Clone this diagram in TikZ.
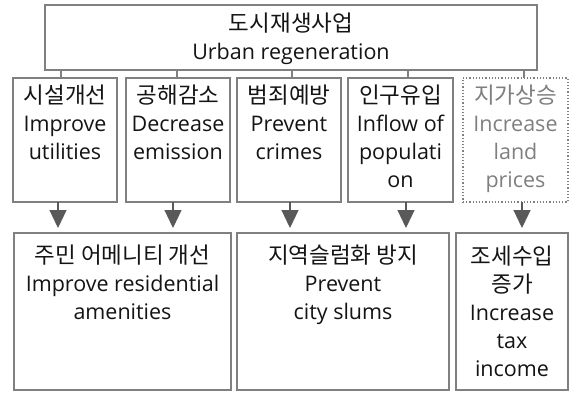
\documentclass[tikz,border=0pt]{standalone}
\usepackage{fontspec}
\setmainfont{Open Sans}
\newfontfamily\krfont{Noto Sans CJK KR}
\usetikzlibrary{arrows.meta,calc}
\newcommand{\kr}{\krfont\fontsize{22.5}{28}\selectfont}
\newcommand{\en}{\fontsize{21.5}{28}\selectfont}
\definecolor{boxgray}{HTML}{808080}
\definecolor{arrowgray}{HTML}{595959}
\definecolor{txtdark}{HTML}{141414}
\definecolor{txtgray}{HTML}{7F7F7F}
\begin{document}
\begin{tikzpicture}[x=1pt,y=-1pt,
  box/.style={draw=boxgray,line width=1.2pt,anchor=north west,inner sep=0pt,outer sep=0pt},
  dotbox/.style={box,dotted},
  txt/.style={anchor=north,align=center,inner sep=0pt,text=txtdark,font=\en},
  link/.style={draw=boxgray,line width=1.2pt},
  arr/.style={draw=arrowgray,line width=1.2pt,-{Triangle[width=17pt,length=18pt]},shorten >=5pt}
]
\useasboundingbox (0,0) rectangle (572,392);
% top box
\node[box,minimum width=492pt,minimum height=65pt] (top) at (45,5) {};
\node[txt] (topt) at ($(top.north)+(0,8)$) {{\kr 도시재생사업}\\Urban regeneration};
% middle boxes
\node[box,minimum width=104pt,minimum height=124pt] (m1) at (13,78) {};
\node[box,minimum width=104pt,minimum height=124pt] (m2) at (126,78) {};
\node[box,minimum width=104pt,minimum height=124pt] (m3) at (237,78) {};
\node[box,minimum width=105pt,minimum height=124pt] (m4) at (348,78) {};
\node[dotbox,minimum width=105pt,minimum height=124pt] (m5) at (463,78) {};
\node[txt] (m1t) at ($(m1.north)+(0,7)$) {{\kr 시설개선}\\Improve\\utilities};
\node[txt] (m2t) at ($(m2.north)+(0,7)$) {{\kr 공해감소}\\Decrease\\emission};
\node[txt] (m3t) at ($(m3.north)+(0,7)$) {{\kr 범죄예방}\\Prevent\\crimes};
\node[txt] (m4t) at ($(m4.north)+(0,7)$) {{\kr 인구유입}\\Inflow of\\populati\\on};
\node[txt,text=txtgray] (m5t) at ($(m5.north)+(0,7)$) {{\kr 지가상승}\\Increase\\land\\prices};
% bottom boxes
\node[box,minimum width=217pt,minimum height=157pt] (b1) at (14,233) {};
\node[box,minimum width=212pt,minimum height=157pt] (b2) at (237,233) {};
\node[box,minimum width=112pt,minimum height=157pt] (b3) at (456,233) {};
\node[txt] (b1t) at ($(b1.north)+(0,12)$) {{\kr 주민 어메니티 개선}\\Improve residential\\amenities};
\node[txt] (b2t) at ($(b2.north)+(0,12)$) {{\kr 지역슬럼화 방지}\\Prevent\\city slums};
\node[txt] (b3t) at ($(b3.north)+(0,13)$) {{\kr 조세수입}\\{\kr 증가}\\Increase\\tax\\income};
% tick connectors
\coordinate (t1) at (61,0);
\coordinate (t2) at (177,0);
\coordinate (t3) at (292,0);
\coordinate (t4) at (408,0);
\coordinate (t5) at (524,0);
\foreach \t/\m in {t1/m1,t2/m2,t3/m3,t4/m4,t5/m5}
  \draw[link] (top.south -| \t) -- (\m.north -| \t);
% arrows
\coordinate (a1) at (58,0);
\coordinate (a2) at (173,0);
\coordinate (a3) at (290,0);
\coordinate (a4) at (406,0);
\coordinate (a5) at (522,0);
\draw[arr] (m1.south -| a1) -- (b1.north -| a1);
\draw[arr] (m2.south -| a2) -- (b1.north -| a2);
\draw[arr] (m3.south -| a3) -- (b2.north -| a3);
\draw[arr] (m4.south -| a4) -- (b2.north -| a4);
\draw[arr] (m5.south -| a5) -- (b3.north -| a5);
\end{tikzpicture}
\end{document}
